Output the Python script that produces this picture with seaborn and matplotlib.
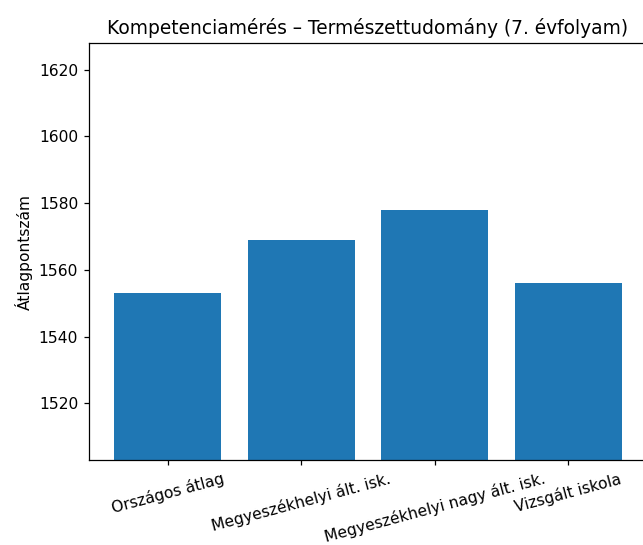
import matplotlib
matplotlib.use("Agg")
import matplotlib.pyplot as plt
import seaborn as sns
import pandas as pd

categories = ["Országos átlag", "Megyeszékhelyi ált. isk.",
              "Megyeszékhelyi nagy ált. isk.", "Vizsgált iskola"]
values = [1553, 1569, 1578, 1556]

df = pd.DataFrame({"cat": categories, "val": values})

DPI = 112
fig = plt.figure(figsize=(643/DPI, 545/DPI), dpi=DPI)
ax = fig.add_axes([89/643, 1-460/545, 570/643, (460-43)/545])
sns.barplot(data=df, x="cat", y="val", color="#1f77b4", saturation=1,
            width=0.8, ax=ax)
ax.set_xlim(-0.59, 3.68)
ax.set_ylim(min(values) - 50, max(values) + 50)
ax.set_xlabel("")
ax.set_ylabel("Átlagpontszám")
ax.set_title("Kompetenciamérés – Természettudomány (7. évfolyam)",
             x=(1.5 + 0.59) / 4.27)
ax.spines["right"].set_visible(False)
plt.setp(ax.get_xticklabels(), rotation=15)
fig.savefig("out.png", dpi=DPI)
